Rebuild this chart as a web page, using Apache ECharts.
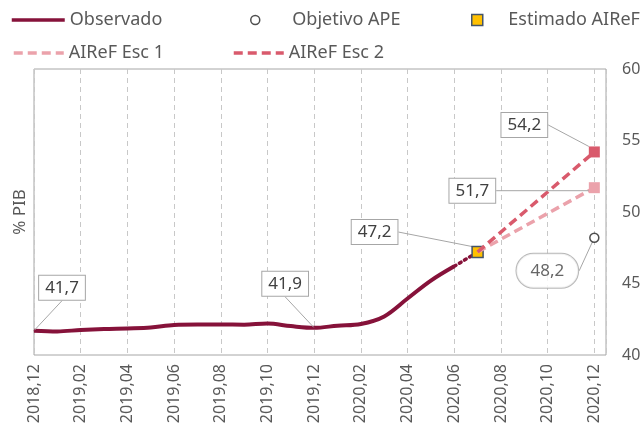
<!DOCTYPE html>
<html>
<head>
<meta charset="utf-8">
<script src="https://cdn.jsdelivr.net/npm/echarts@6/dist/echarts.min.js"></script>
<style>
  html, body { margin: 0; padding: 0; background: #fff; }
  #chart { width: 644px; height: 434px; }
</style>
</head>
<body>
<div id="chart"></div>
<script>
'use strict';
// meses (eje x) 2018,12 .. 2020,12
var months = ['2018,12', '2019,01', '2019,02', '2019,03', '2019,04', '2019,05', '2019,06',
    '2019,07', '2019,08', '2019,09', '2019,10', '2019,11', '2019,12', '2020,01', '2020,02',
    '2020,03', '2020,04', '2020,05', '2020,06', '2020,07', '2020,08', '2020,09', '2020,10',
    '2020,11', '2020,12'];
// Observado: 2018,12 .. 2020,06
var observado = [41.7, 41.65, 41.75, 41.82, 41.86, 41.92, 42.1, 42.13, 42.13, 42.12,
    42.2, 42.02, 41.9, 42.05, 42.17, 42.7, 43.95, 45.2, 46.2];
var estimadoMes = 19;          // 2020,07
var estimado = 47.2;
var finMes = 24;               // 2020,12
var esc1 = 51.7;
var esc2 = 54.2;
var objetivoAPE = 48.2;
var yTicks = [40, 45, 50, 55, 60];

var colObs = '#86123a';
var colEsc1 = '#eba2ab';
var colEsc2 = '#d95a6c';
var textCol = '#595959';
var fontFam = 'Noto Sans';

function fmt(v) {
    return v.toFixed(1).replace('.', ',');
}

// desplazamiento de cada etiqueta respecto a su punto
function offsets(map) {
    return function (params) {
        var o = map[params.dataIndex];
        return o ? { dx: o[0], dy: o[1] } : {};
    };
}

var boxLabel = {
    show: true,
    position: 'inside',
    formatter: function (p) { return fmt(p.value[1]); },
    color: '#404040',
    fontFamily: fontFam,
    fontSize: 17,
    backgroundColor: '#fff',
    borderColor: '#a6a6a6',
    borderWidth: 1,
    padding: [4, 6, 3, 6]
};
var guide = { show: true, lineStyle: { color: '#a6a6a6', width: 1 } };

function init() {
    var chart = echarts.init(document.getElementById('chart'));

    var obsData = observado.map(function (v, i) {
        var item = { value: [i, v] };
        if (i === 0 || i === 12) {
            item.symbol = 'circle';
            item.symbolSize = 1;
            item.label = boxLabel;
        }
        return item;
    });
    var last = observado.length - 1;

    var legendText = { color: textCol, fontFamily: fontFam, fontSize: 18 };
    var noMark = { opacity: 0 };

    var option = {
        animation: false,
        textStyle: { fontFamily: fontFam },
        legend: [
            {
                data: [{ name: 'Observado', itemStyle: noMark, lineStyle: { width: 3.5 } }],
                left: 5, top: 6, itemWidth: 53, itemHeight: 14, textStyle: legendText
            },
            {
                data: [{ name: 'Objetivo APE', icon: 'circle',
                    itemStyle: { color: '#fff', borderColor: '#222', borderWidth: 1.5 } }],
                left: 245, top: 6, itemWidth: 64, itemHeight: 9, textStyle: legendText
            },
            {
                data: [{ name: 'Estimado AIReF', icon: 'path://M0 0H10V10H0Z',
                    itemStyle: { color: '#ffc000', borderColor: '#44546a', borderWidth: 1.5 } }],
                left: 466, top: 6, itemWidth: 52, itemHeight: 11, textStyle: legendText
            },
            {
                data: [{ name: 'AIReF Esc 1', itemStyle: noMark, lineStyle: { width: 3.5 } }],
                left: 7, top: 39, itemWidth: 50, itemHeight: 14, textStyle: legendText
            },
            {
                data: [{ name: 'AIReF Esc 2', itemStyle: noMark, lineStyle: { width: 3.5 } }],
                left: 227, top: 39, itemWidth: 50, itemHeight: 14, textStyle: legendText
            }
        ],
        grid: {
            left: 34, right: 38, top: 69, bottom: 79,
            show: true, borderColor: '#a6a6a6', borderWidth: 1
        },
        xAxis: {
            type: 'value',
            min: 0,
            max: 24.5,
            interval: 2,
            axisLine: { show: false },
            axisTick: { show: false },
            axisLabel: {
                rotate: 90,
                margin: 9,
                color: textCol,
                fontFamily: fontFam,
                fontSize: 16,
                formatter: function (v) { return Number.isInteger(v) && months[v] ? months[v] : ''; }
            },
            splitLine: { show: true, lineStyle: { color: '#c8c8c8', type: [5, 4] } }
        },
        yAxis: [
            {
                type: 'value',
                position: 'right',
                min: yTicks[0],
                max: yTicks[yTicks.length - 1],
                interval: 5,
                axisLine: { show: false },
                axisTick: { show: false },
                splitLine: { show: false },
                axisLabel: { margin: 16, color: textCol, fontFamily: fontFam, fontSize: 16 }
            },
            {
                type: 'value',
                position: 'left',
                min: yTicks[0],
                max: yTicks[yTicks.length - 1],
                name: '% PIB',
                nameLocation: 'middle',
                nameGap: 5,
                nameTextStyle: { color: textCol, fontFamily: fontFam, fontSize: 17 },
                axisLine: { show: false },
                axisTick: { show: false },
                axisLabel: { show: false },
                splitLine: { show: false }
            }
        ],
        series: [
            {
                name: 'Observado',
                type: 'line',
                data: obsData,
                symbol: 'none',
                showAllSymbol: true,
                smooth: 0.35,
                itemStyle: { color: colObs },
                lineStyle: { color: colObs, width: 4 },
                labelLine: guide,
                labelLayout: offsets({ 0: [28, -43], 12: [-29, -44] }),
                z: 3
            },
            {
                name: 'Estimado AIReF',
                type: 'line',
                data: [
                    { value: [last, observado[last]], symbol: 'none' },
                    { value: [estimadoMes, estimado], label: boxLabel }
                ],
                symbol: 'rect',
                symbolSize: 11,
                itemStyle: { color: '#ffc000', borderColor: '#44546a', borderWidth: 1.5 },
                lineStyle: { color: colObs, width: 3.5, type: [2, 4], cap: 'round' },
                labelLine: guide,
                labelLayout: offsets({ 1: [-103, -20] }),
                z: 3
            },
            {
                name: 'AIReF Esc 1',
                type: 'line',
                data: [
                    { value: [estimadoMes, estimado] },
                    { value: [finMes, esc1], symbol: 'rect', symbolSize: 11, label: boxLabel }
                ],
                symbol: 'none',
                itemStyle: { color: colEsc1 },
                lineStyle: { color: colEsc1, width: 3.5, type: [9, 5] },
                labelLine: guide,
                labelLayout: offsets({ 1: [-122, 3] }),
                z: 4
            },
            {
                name: 'AIReF Esc 2',
                type: 'line',
                data: [
                    { value: [estimadoMes, estimado] },
                    { value: [finMes, esc2], symbol: 'rect', symbolSize: 11, label: boxLabel }
                ],
                symbol: 'none',
                itemStyle: { color: colEsc2 },
                lineStyle: { color: colEsc2, width: 3.5, type: [9, 5] },
                labelLine: guide,
                labelLayout: offsets({ 1: [-70, -27] }),
                z: 4
            },
            {
                name: 'Objetivo APE',
                type: 'scatter',
                data: [[finMes, objetivoAPE]],
                symbol: 'circle',
                symbolSize: 9,
                itemStyle: { color: '#fff', borderColor: '#222', borderWidth: 1.5 },
                label: Object.assign({}, boxLabel, { borderRadius: 18, padding: [9, 14, 8, 14] }),
                labelLine: guide,
                labelLayout: offsets({ 0: [-47, 33] }),
                z: 5
            }
        ]
    };
    chart.setOption(option);
}

(function () {
    init();
})();
</script>
</body>
</html>
